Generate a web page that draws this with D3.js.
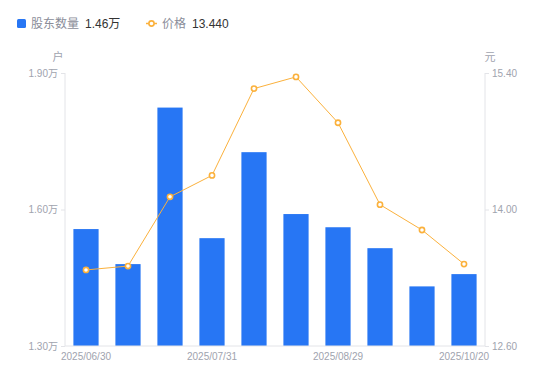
<!DOCTYPE html>
<html><head><meta charset="utf-8">
<script src="https://cdn.jsdelivr.net/npm/d3@7"></script>
<style>body{margin:0;background:#fff;}svg{display:block;font-family:"Liberation Sans","Noto Sans CJK SC",sans-serif;}</style>
</head><body><svg id="c" width="550" height="381"></svg>
<script>
const dates = ["2025/06/30","2025/07/10","2025/07/20","2025/07/31","2025/08/10","2025/08/20","2025/08/29","2025/09/10","2025/09/30","2025/10/20"];
const holders = [1.557,1.480,1.824,1.537,1.726,1.590,1.561,1.515,1.431,1.458];
const prices = [13.38,13.42,14.13,14.35,15.24,15.36,14.89,14.05,13.79,13.44];
const leftTicks = [1.30,1.60,1.90];
const rightTicks = [12.60,14.00,15.40];
const shownDates = ["2025/06/30","2025/07/31","2025/08/29","2025/10/20"];

const svg = d3.select("#c");
const L=65,R=485,T=73,B=346;
const barColor="#2776F4", lineColor="#FBB13C", axisColor="#E3E4E8", labColor="#A0A3AE";
const x = d3.scaleBand().domain(dates).range([L,R]).paddingInner(0.4).paddingOuter(0.2);
const yL = d3.scaleLinear().domain([1.30,1.90]).range([B,T]);
const yR = d3.scaleLinear().domain([12.60,15.40]).range([B,T]);

// bars
svg.append("g").selectAll("rect").data(holders).join("rect")
  .attr("x",(d,i)=>x(dates[i])).attr("width",x.bandwidth())
  .attr("y",d=>yL(d)).attr("height",d=>B-yL(d)).attr("fill",barColor);

// axes
const gl = svg.append("g").attr("transform",`translate(${L},0)`)
  .call(d3.axisLeft(yL).tickValues(leftTicks).tickSize(4).tickPadding(3).tickFormat(d=>d.toFixed(2)+"万"));
const gr = svg.append("g").attr("transform",`translate(${R},0)`)
  .call(d3.axisRight(yR).tickValues(rightTicks).tickSize(4).tickPadding(3).tickFormat(d=>d.toFixed(2)));
const gb = svg.append("g").attr("transform",`translate(0,${B})`)
  .call(d3.axisBottom(x).tickValues(shownDates).tickSize(0).tickPadding(7));
[gl,gr,gb].forEach(g=>{
  g.selectAll(".domain").attr("stroke",axisColor);
  g.selectAll(".tick line").attr("stroke",axisColor);
  g.selectAll("text").attr("fill",labColor).style("font-size","10px").style("font-family","'Liberation Sans','Noto Sans CJK SC',sans-serif");
});
gl.select(".domain").attr("d",`M0,${T}V${B}`);
gr.select(".domain").attr("d",`M0,${T}V${B}`);
gb.select(".domain").attr("d",`M${L},0H${R}`);

svg.append("text").attr("x",58).attr("y",61).attr("text-anchor","middle").attr("fill",labColor).style("font-size","11px").style("font-family","'Noto Sans CJK SC'").text("户");
svg.append("text").attr("x",490).attr("y",61).attr("text-anchor","middle").attr("fill",labColor).style("font-size","11px").style("font-family","'Noto Sans CJK SC'").text("元");

// line
const cx=(i)=>x(dates[i])+x.bandwidth()/2;
svg.append("path").datum(prices).attr("fill","none").attr("stroke",lineColor).attr("stroke-width",1)
  .attr("d",d3.line().x((d,i)=>cx(i)).y(d=>yR(d)));
svg.append("g").selectAll("circle").data(prices).join("circle")
  .attr("cx",(d,i)=>cx(i)).attr("cy",d=>yR(d)).attr("r",2.6)
  .attr("fill","#fff").attr("stroke",lineColor).attr("stroke-width",1.6);

// legend
const lg = svg.append("g").style("font-size","12px");
lg.append("rect").attr("x",17).attr("y",19).attr("width",9).attr("height",9).attr("rx",1.5).attr("fill",barColor);
lg.append("text").attr("x",31).attr("y",28).attr("fill","#8A8D99").style("font-family","'Noto Sans CJK SC'").text("股东数量");
lg.append("text").attr("x",85).attr("y",28).attr("fill","#333").text(holders[holders.length-1].toFixed(2)+"万");
lg.append("line").attr("x1",146).attr("x2",157).attr("y1",23.5).attr("y2",23.5).attr("stroke",lineColor).attr("stroke-width",1.5);
lg.append("circle").attr("cx",151.5).attr("cy",23.5).attr("r",2.6).attr("fill","#fff").attr("stroke",lineColor).attr("stroke-width",1.6);
lg.append("text").attr("x",162).attr("y",28).attr("fill","#8A8D99").style("font-family","'Noto Sans CJK SC'").text("价格");
lg.append("text").attr("x",192).attr("y",28).attr("fill","#333").text(prices[prices.length-1].toFixed(3));
</script></body></html>
